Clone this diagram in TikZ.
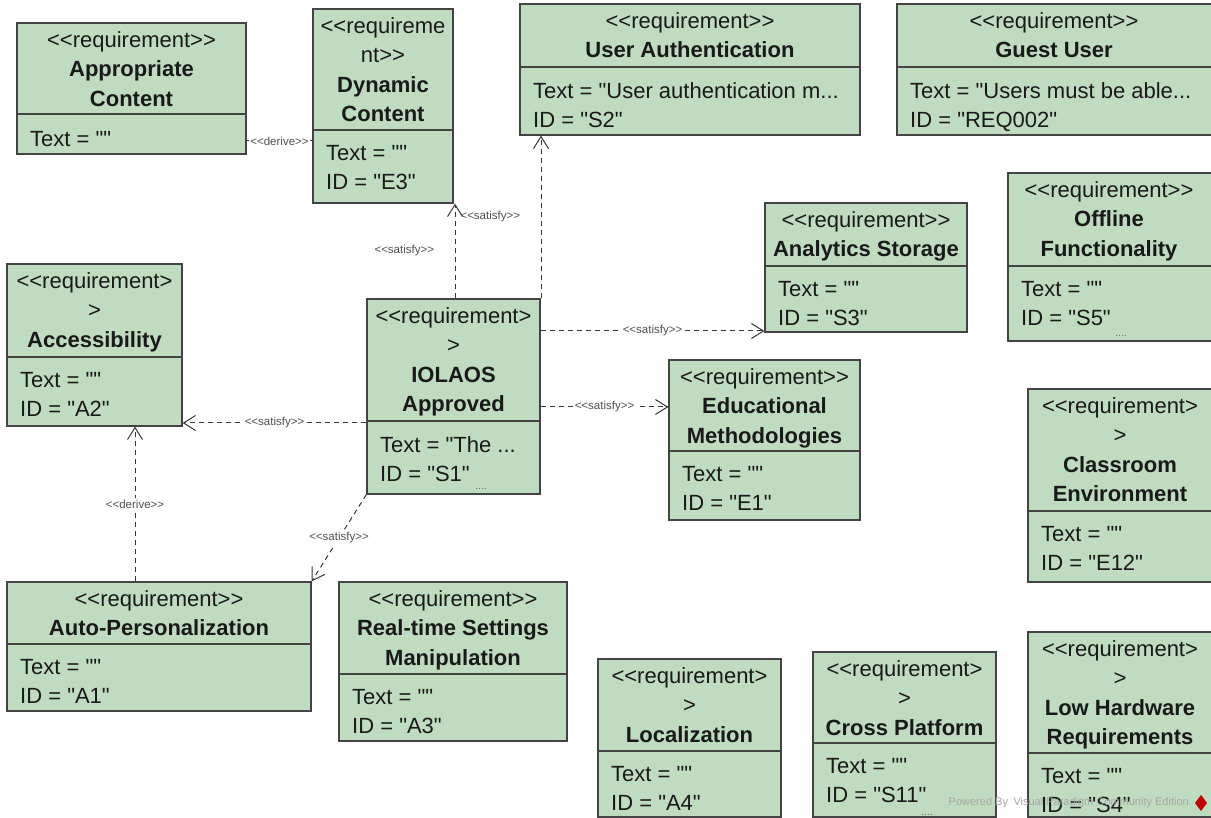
\documentclass[tikz,border=0pt]{standalone}
\usepackage{fontspec}
\newfontfamily\vpfont{Liberation Sans}
\usetikzlibrary{arrows.meta,fit}
\definecolor{reqfill}{RGB}{192,220,192}
\definecolor{reqline}{RGB}{68,68,68}
\definecolor{relline}{RGB}{55,55,55}
\definecolor{tagtext}{RGB}{80,80,80}
\begin{document}
\begin{tikzpicture}[x=1pt,y=-1pt,
  reqbox/.style={draw=reqline,fill=reqfill,line width=1.3pt,inner sep=0pt},
  reqrule/.style={draw=reqline,line width=1.3pt},
  reqhead/.style={anchor=north,align=center,inner sep=0pt,text=black!90,yshift=-4pt,
    font=\vpfont\fontsize{22}{29.3}\selectfont,execute at begin node=\rule{0pt}{17pt}},
  reqattr/.style={anchor=north west,align=left,inner sep=0pt,text=black!90,yshift=-1pt,
    font=\vpfont\fontsize{22}{29.3}\selectfont,execute at begin node=\rule{0pt}{17pt}},
  reqdots/.style={inner sep=0pt,text=black!60,font=\vpfont\fontsize{10}{10}\selectfont},
  dep/.style={draw=relline,line width=1pt,dash pattern=on 5pt off 4pt},
  satis/.style={dep,-{Straight Barb[length=12pt,width=15pt,line width=1pt]}},
  stereo/.style={inner sep=1.5pt,text=tagtext,font=\vpfont\fontsize{11.5}{12}\selectfont}]
  \useasboundingbox (0,0) rectangle (1211,818);
  \clip (0,0) rectangle (1211,818);
  \fill[white] (0,0) rectangle (1211,818);

  \node[reqbox,fit={(17,23)(246,154)}] (appr) {};
  \draw[reqrule] (appr.west |- 0,114) -- (appr.east |- 0,114);
  \node[reqhead] at (131.5,27.5) {<<requirement>>\\\textbf{Appropriate}\\\textbf{Content}};
  \node[reqattr] at (30,128) {Text = ""};

  \node[reqbox,fit={(313,9)(453,203)}] (dyn) {};
  \draw[reqrule] (dyn.west |- 0,130) -- (dyn.east |- 0,130);
  \node[reqhead] at (383,13.5) {<<requireme\\nt>>\\\textbf{Dynamic}\\\textbf{Content}};
  \node[reqattr] at (326,144) {Text = ""\\ID = "E3"};

  \node[reqbox,fit={(520,4)(860,135)}] (auth) {};
  \draw[reqrule] (auth.west |- 0,67) -- (auth.east |- 0,67);
  \node[reqhead] at (690,8.5) {<<requirement>>\\\textbf{User Authentication}};
  \node[reqattr] at (533,81) {Text = "User authentication m...\\ID = "S2"};

  \node[reqbox,fit={(897,4)(1214,135)}] (guest) {};
  \draw[reqrule] (guest.west |- 0,67) -- (guest.east |- 0,67);
  \node[reqhead] at (1054,8.5) {<<requirement>>\\\textbf{Guest User}};
  \node[reqattr] at (910,81) {Text = "Users must be able...\\ID = "REQ002"};

  \node[reqbox,fit={(765,203)(967,332)}] (anal) {};
  \draw[reqrule] (anal.west |- 0,266) -- (anal.east |- 0,266);
  \node[reqhead] at (866,207.5) {<<requirement>>\\\textbf{Analytics Storage}};
  \node[reqattr] at (778,280) {Text = ""\\ID = "S3"};

  \node[reqbox,fit={(1008,173)(1214,341)}] (offl) {};
  \draw[reqrule] (offl.west |- 0,266) -- (offl.east |- 0,266);
  \node[reqhead] at (1109,177.5) {<<requirement>>\\\textbf{Offline}\\\textbf{Functionality}};
  \node[reqattr] at (1021,280) {Text = ""\\ID = "S5"};
  \node[reqdots] at (1121,336) {....};

  \node[reqbox,fit={(7,264)(182,426)}] (acc) {};
  \draw[reqrule] (acc.west |- 0,357) -- (acc.east |- 0,357);
  \node[reqhead] at (94.5,268.5) {<<requirement>\\>\\\textbf{Accessibility}};
  \node[reqattr] at (20,371) {Text = ""\\ID = "A2"};

  \node[reqbox,fit={(367,299)(540,494)}] (iol) {};
  \draw[reqrule] (iol.west |- 0,421) -- (iol.east |- 0,421);
  \node[reqhead] at (453.5,303.5) {<<requirement>\\>\\\textbf{IOLAOS}\\\textbf{Approved}};
  \node[reqattr] at (380,435) {Text = "The ...\\ID = "S1"};
  \node[reqdots] at (481,489) {....};

  \node[reqbox,fit={(669,360)(860,520)}] (edu) {};
  \draw[reqrule] (edu.west |- 0,451) -- (edu.east |- 0,451);
  \node[reqhead] at (764.5,364.5) {<<requirement>>\\\textbf{Educational}\\\textbf{Methodologies}};
  \node[reqattr] at (682,465) {Text = ""\\ID = "E1"};

  \node[reqbox,fit={(1028,389)(1214,582)}] (cls) {};
  \draw[reqrule] (cls.west |- 0,511) -- (cls.east |- 0,511);
  \node[reqhead] at (1120,393.5) {<<requirement>\\>\\\textbf{Classroom}\\\textbf{Environment}};
  \node[reqattr] at (1041,525) {Text = ""\\ID = "E12"};

  \node[reqbox,fit={(7,582)(311,711)}] (auto) {};
  \draw[reqrule] (auto.west |- 0,644) -- (auto.east |- 0,644);
  \node[reqhead] at (159,586.5) {<<requirement>>\\\textbf{Auto-Personalization}};
  \node[reqattr] at (20,658) {Text = ""\\ID = "A1"};

  \node[reqbox,fit={(339,582)(567,741)}] (rts) {};
  \draw[reqrule] (rts.west |- 0,674) -- (rts.east |- 0,674);
  \node[reqhead] at (453,586.5) {<<requirement>>\\\textbf{Real-time Settings}\\\textbf{Manipulation}};
  \node[reqattr] at (352,688) {Text = ""\\ID = "A3"};

  \node[reqbox,fit={(598,659)(781,817)}] (loc) {};
  \draw[reqrule] (loc.west |- 0,751) -- (loc.east |- 0,751);
  \node[reqhead] at (689.5,663.5) {<<requirement>\\>\\\textbf{Localization}};
  \node[reqattr] at (611,765) {Text = ""\\ID = "A4"};

  \node[reqbox,fit={(813,652)(996,817)}] (cross) {};
  \draw[reqrule] (cross.west |- 0,743) -- (cross.east |- 0,743);
  \node[reqhead] at (904.5,656.5) {<<requirement>\\>\\\textbf{Cross Platform}};
  \node[reqattr] at (826,757) {Text = ""\\ID = "S11"};
  \node[reqdots] at (927,815) {....};

  \node[reqbox,fit={(1028,632)(1214,817)}] (low) {};
  \draw[reqrule] (low.west |- 0,753) -- (low.east |- 0,753);
  \node[reqhead] at (1120,636.5) {<<requirement>\\>\\\textbf{Low Hardware}\\\textbf{Requirements}};
  \node[reqattr] at (1041,767) {Text = ""\\ID = "S4"};

  \draw[dep] (dyn.west |- 0,141) -- (appr.east |- 0,141)
    node[midway,stereo,fill=white] {<<derive>>};
  \draw[satis] (iol.north -| 455,0) -- (dyn.south -| 455,0)
    node[midway,stereo,anchor=east,xshift=-19pt] {<<satisfy>>};
  \draw[satis] (iol.north -| 541,0) -- (auth.south -| 541,0)
    node[midway,stereo,anchor=east,xshift=-19pt] {<<satisfy>>};
  \draw[satis] (iol.east |- 0,331) -- (anal.west |- 0,331)
    node[midway,stereo,fill=white] {<<satisfy>>};
  \draw[satis] (iol.east |- 0,407) -- (edu.west |- 0,407)
    node[midway,stereo,fill=white] {<<satisfy>>};
  \draw[satis] (iol.west |- 0,423) -- (acc.east |- 0,423)
    node[midway,stereo,fill=white] {<<satisfy>>};
  \draw[satis] (iol.south west) -- (auto.north east)
    node[midway,stereo,fill=white] {<<satisfy>>};
  \draw[satis] (auto.north -| 135,0) -- (acc.south -| 135,0)
    node[midway,stereo,fill=white] {<<derive>>};

  \node[anchor=east,inner sep=0pt,text=black!35,font=\vpfont\fontsize{11}{12}\selectfont] (wm) at (1189,803) {Powered By\enspace Visual Paradigm Community Edition};
  \fill[red!75!black] (1201,795) -- (1207,803) -- (1201,811) -- (1195,803) -- cycle;
\end{tikzpicture}
\end{document}
